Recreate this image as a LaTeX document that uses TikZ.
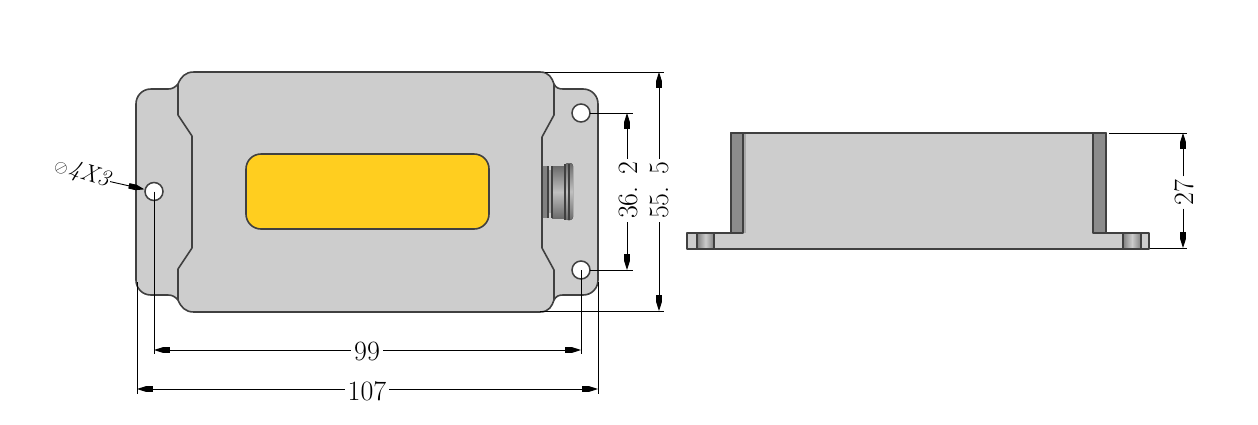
\documentclass[tikz,border=0pt]{standalone}
\usetikzlibrary{arrows.meta}
\definecolor{bodygray}{HTML}{CDCDCD}
\definecolor{edgegray}{HTML}{404040}
\definecolor{wallgray}{HTML}{8C8C8C}
\definecolor{shadegray}{HTML}{A8A8A8}
\definecolor{amber}{HTML}{FFCE1F}
\tikzset{
  outline/.style={draw=edgegray,line width=1.6pt,line join=round},
  part/.style={outline,fill=bodygray},
  hole/.style={draw=edgegray,line width=1.5pt,fill=white,circle,minimum size=18pt,inner sep=0pt},
  extline/.style={draw=black,line width=0.9pt},
  dimline/.style={draw=black,line width=0.9pt,-{Rectangle[length=7pt,width=5.5pt,sep=0pt]Triangle[length=9pt,width=5.5pt,sep=0pt]}},
  dimtext/.style={font=\fontsize{28}{28}\selectfont,inner sep=3pt,text=black},
  sidetext/.style={dimtext,rotate=90,transform shape},
  bore/.style={left color=black!50,right color=black!50,middle color=black!20},
  plugbody/.style={top color=black!58,bottom color=black!58,middle color=black!25},
  plugrib/.style={draw=edgegray,line width=2pt}
}
\begin{document}
\begin{tikzpicture}[x=1pt,y=-1pt]
\useasboundingbox (0,0) rectangle (1258,424);
% front view: flange and body
\path[part] (151,89) -- (168,89) .. controls (173,89) and (175,87) .. (178,84)
  .. controls (181,77) and (185,72) .. (194,72) -- (540,72)
  .. controls (549,72) and (552,78) .. (554,84)
  .. controls (556,88) and (559,89) .. (563,89) -- (583,89)
  .. controls (592,89) and (598,96) .. (598,104) -- (598,280)
  .. controls (598,288) and (592,295) .. (583,295) -- (563,295)
  .. controls (559,295) and (556,296) .. (554,300)
  .. controls (552,306) and (549,312) .. (540,312) -- (194,312)
  .. controls (185,312) and (181,307) .. (178,300)
  .. controls (175,297) and (173,295) .. (168,295) -- (151,295)
  .. controls (142,295) and (136,288) .. (136,280) -- (136,104)
  .. controls (136,96) and (142,89) .. (151,89) -- cycle;
\draw[outline] (178,84) -- (178,115) -- (192,136) -- (192,248) -- (178,269) -- (178,300);
\draw[outline] (554,84) -- (554,115) -- (542,137) -- (542,248) -- (554,270) -- (554,300);
% window
\path[outline,fill=amber,rounded corners=15pt] (246,154) rectangle (489,229);
% connector
\fill[black!50] (543,166) rectangle (548,218);
\fill[black!35] (549,170) rectangle (552,213);
\fill[plugbody] (552,166) rectangle (566,218);
\fill[plugbody,rounded corners=3pt] (565,163) rectangle (573,220);
\draw[plugrib] (548,166) -- (548,218) (552,166) -- (552,218);
\draw[plugrib] (565,164) -- (565,220) (569,164) -- (569,220);
% holes
\node[hole] (hl) at (154,191.5) {};
\node[hole] (hu) at (581,113) {};
\node[hole] (hd) at (581,270) {};
% side view
\path[part,line width=2pt] (687,233) -- (731,233) -- (731,133) -- (1106,133) -- (1106,233) -- (1149,233) -- (1149,249) -- (687,249) -- cycle;
\fill[shadegray] (744,134) rectangle (746,233);
\path[outline,line width=2pt,fill=wallgray] (731,133) rectangle (743,233);
\path[outline,line width=2pt,fill=wallgray] (1093,133) rectangle (1106,233);
\draw[outline,line width=2pt] (687,233) -- (731,233) (1093,233) -- (1149,233);
\path[outline,line width=2pt,bore] (697,233) rectangle (714,249);
\path[outline,line width=2pt,bore] (1123,233) rectangle (1141,249);
% named points
\coordinate (t55) at (659,72);
\coordinate (b55) at (659,311);
\coordinate (t36) at (627,113);
\coordinate (b36) at (627,270);
\coordinate (t27) at (1183,133);
\coordinate (b27) at (1183,248);
\coordinate (l99) at (154,350);
\coordinate (r99) at (581,350);
\coordinate (l107) at (137,389);
\coordinate (r107) at (598,389);
% extension lines
\draw[extline] (545,72) -- (664,72);
\draw[extline] (540,311) -- (664,311);
\draw[extline] (590,113) -- (633,113);
\draw[extline] (590,270) -- (633,270);
\draw[extline] (1109,133) -- (1187,133);
\draw[extline] (1150,248) -- (1187,248);
\draw[extline] (hl.center) -- (154,354);
\draw[extline] (hd.center) -- (581,354);
\draw[extline] (137,282) -- (137,394);
\draw[extline] (598,282) -- (598,394);
% dimension labels
\node[dimtext] (d99) at (367,351) {99};
\node[dimtext] (d107) at (367,391) {107};
\node[sidetext] (d362) at (628,190.5) {36. 2};
\node[sidetext] (d555) at (659,190.5) {55. 5};
\node[sidetext] (d27) at (1184,192.5) {27};
\node[dimtext,rotate=-17,transform shape,font=\fontsize{24}{24}\selectfont\itshape,inner sep=1pt] (dhole) at (82,173) {{\fontsize{16}{16}\selectfont$\oslash$}\kern1.5pt 4X3};
% dimension lines
\draw[dimline] (d99.west |- l99) -- (l99);
\draw[dimline] (d99.east |- r99) -- (r99);
\draw[dimline] (d107.west |- l107) -- (l107);
\draw[dimline] (d107.east |- r107) -- (r107);
\draw[dimline] (d362.east -| t36) -- (t36);
\draw[dimline] (d362.west -| b36) -- (b36);
\draw[dimline] (d555.east -| t55) -- (t55);
\draw[dimline] (d555.west -| b55) -- (b55);
\draw[dimline] (d27.east -| t27) -- (t27);
\draw[dimline] (d27.west -| b27) -- (b27);
\draw[dimline] (dhole.east) -- (hl);
\end{tikzpicture}
\end{document}
